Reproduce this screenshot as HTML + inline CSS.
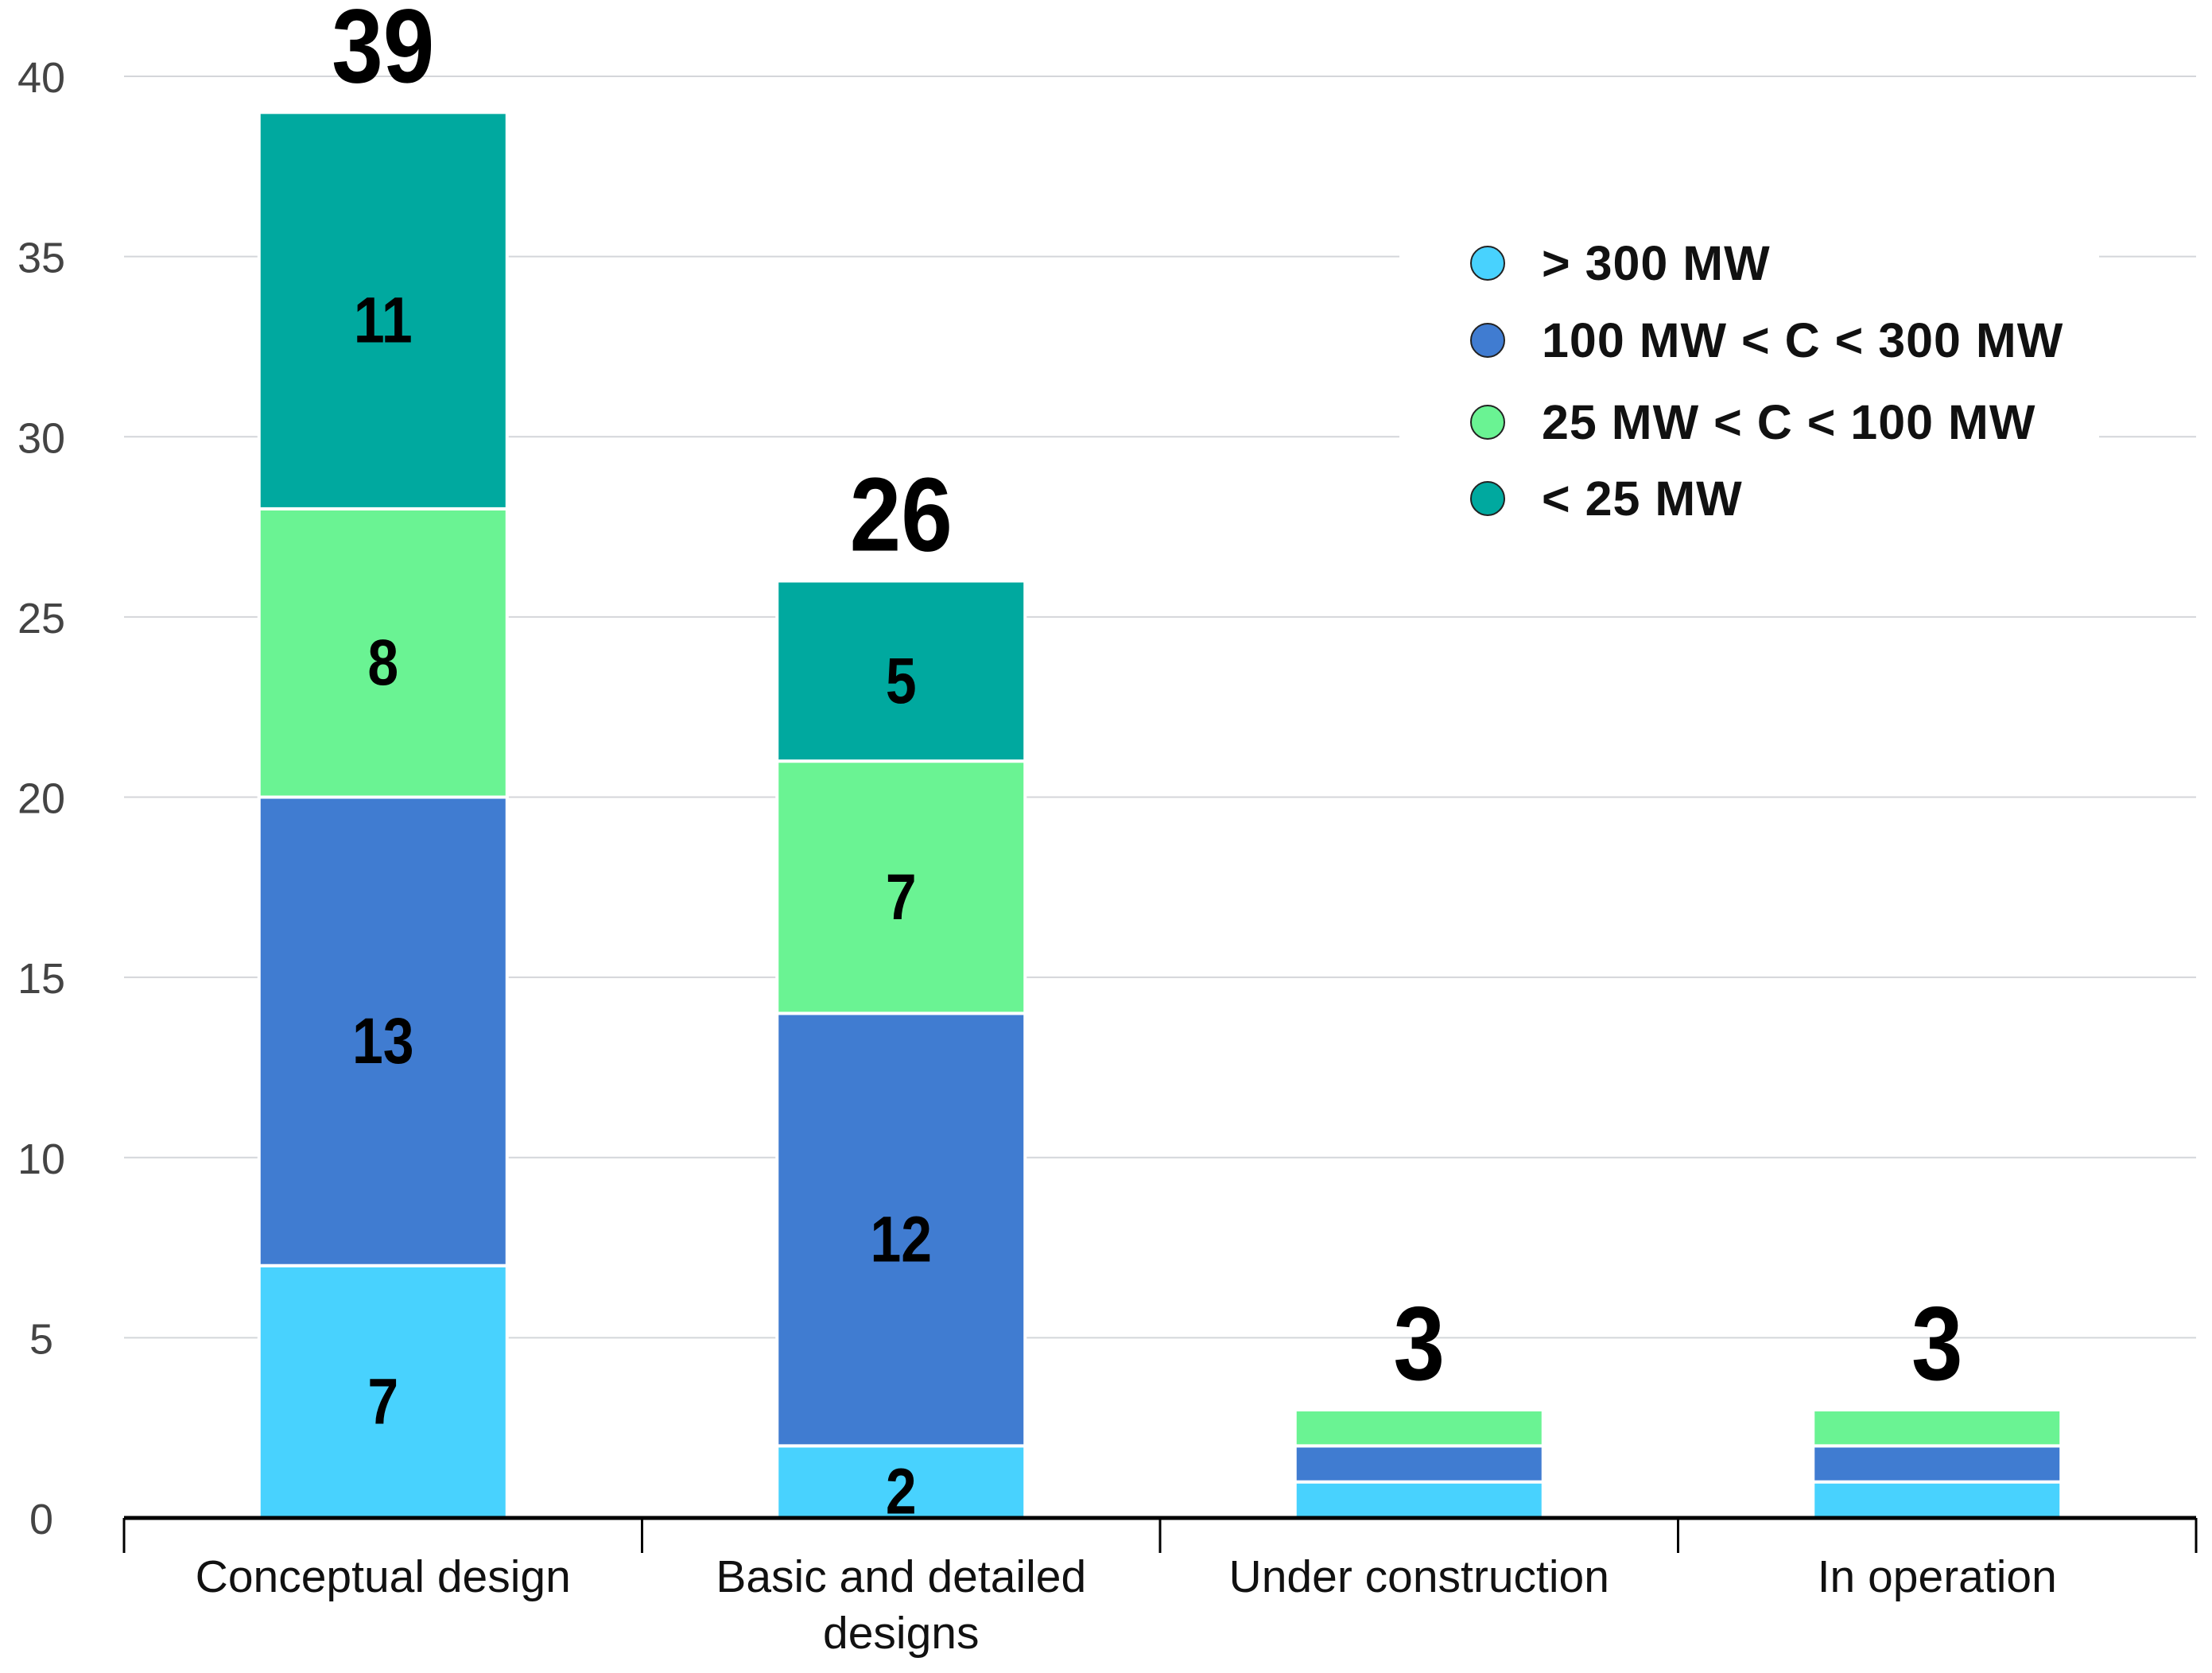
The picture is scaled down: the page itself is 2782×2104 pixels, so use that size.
<!DOCTYPE html>
<html><head><meta charset="utf-8">
<style>
html,body{margin:0;padding:0;background:#fff;}
svg{display:block;}
text{font-family:"Liberation Sans","DejaVu Sans",sans-serif;}
</style></head>
<body>
<svg id="chart" width="2782" height="2104" viewBox="0 0 2782 2104" xmlns="http://www.w3.org/2000/svg">
<g id="grid"></g>
<g id="yticks"></g>
<g id="bars"></g>
<g id="xaxis"></g>
<g id="legend"></g>
</svg>
<script>
const categories = ["Conceptual design", "Basic and detailed|designs", "Under construction", "In operation"];
const seriesNames = ["> 300 MW", "100 MW < C < 300 MW", "25 MW < C < 100 MW", "< 25 MW"];
const seriesGt300 = [7, 2, 1, 1];
const series100to300 = [13, 12, 1, 1];
const series25to100 = [8, 7, 1, 1];
const seriesLt25 = [11, 5, 0, 0];
const totals = [39, 26, 3, 3];
const yTicks = [0, 5, 10, 15, 20, 25, 30, 35, 40];

const NS = "http://www.w3.org/2000/svg";
const colors = ["#48D2FE", "#407CD1", "#6AF393", "#00A99F"];
const series = [seriesGt300, series100to300, series25to100, seriesLt25];
const plotL = 156, plotR = 2762, y0px = 1909, y40px = 96;
const yScale = v => y0px - (v / 40) * (y0px - y40px);
const band = (plotR - plotL) / categories.length;
const xCenter = i => plotL + band * (i + 0.5);
const barW = 312;

function mk(tag, attrs, parent, txt) {
  const e = document.createElementNS(NS, tag);
  for (const k in attrs) e.setAttribute(k, attrs[k]);
  if (txt !== undefined) e.textContent = txt;
  parent.appendChild(e);
  return e;
}

const grid = document.getElementById("grid");
const yt = document.getElementById("yticks");
yTicks.forEach(v => {
  if (v > 0) {
    const l = mk("line", {x1: plotL, x2: plotR, y1: yScale(v), y2: yScale(v), stroke: "#d4d6da", "stroke-width": 2}, grid);
    
    
  }
  const t = mk("text", {x: 52, y: yScale(v) + 20, "text-anchor": "middle", "font-size": 54, fill: "#444"}, yt, String(v));
  
  
});

const bars = document.getElementById("bars");
categories.forEach((c, i) => {
  let cum = 0;
  const cx = xCenter(i);
  series.forEach((s, si) => {
    const v = s[i];
    if (v <= 0) return;
    const yTop = yScale(cum + v), yBot = yScale(cum);
    const r = mk("rect", {x: cx - barW / 2, y: yTop, width: barW, height: yBot - yTop, fill: colors[si], stroke: "#fff", "stroke-width": 4}, bars);
    
    
    if (v >= 2) {
      const t = mk("text", {x: cx, y: (yTop + yBot) / 2 + 40, "text-anchor": "middle", "font-size": 82, "font-weight": "bold", fill: "#000", transform: "translate(" + cx + ",0) scale(0.85,1) translate(" + (-cx) + ",0)"}, bars, String(v));
      
      
    }
    cum += v;
  });
  const tt = mk("text", {x: cx, y: yScale(totals[i]) - 38, "text-anchor": "middle", "font-size": 132, "font-weight": "bold", fill: "#000", transform: "translate(" + cx + ",0) scale(0.88,1) translate(" + (-cx) + ",0)"}, bars, String(totals[i]));
  
  
});

const xa = document.getElementById("xaxis");
const ax = mk("line", {x1: plotL, x2: plotR, y1: y0px, y2: y0px, stroke: "#000", "stroke-width": 5}, xa);


for (let i = 0; i <= categories.length; i++) {
  const x = plotL + band * i;
  const tk = mk("line", {x1: x, x2: x, y1: y0px, y2: 1953, stroke: "#000", "stroke-width": 3}, xa);
  
  
}
categories.forEach((c, i) => {
  c.split("|").forEach((line, li) => {
    const t = mk("text", {x: xCenter(i), y: 2002 + li * 71, "text-anchor": "middle", "font-size": 57, fill: "#111"}, xa, line);
    
    
  });
});

const lg = document.getElementById("legend");
const bg = mk("rect", {x: 1760, y: 270, width: 880, height: 400, fill: "#fff"}, lg);


const legY = [331, 428, 531, 627];
seriesNames.forEach((n, i) => {
  const c = mk("circle", {cx: 1871, cy: legY[i], r: 21, fill: colors[i], stroke: "#222", "stroke-width": 2}, lg);
  
  
  const t = mk("text", {x: 1939, y: legY[i] + 21, "font-size": 61, "font-weight": "bold", fill: "#111", "letter-spacing": 1}, lg, n);
  
  
});
</script>
</body></html>
